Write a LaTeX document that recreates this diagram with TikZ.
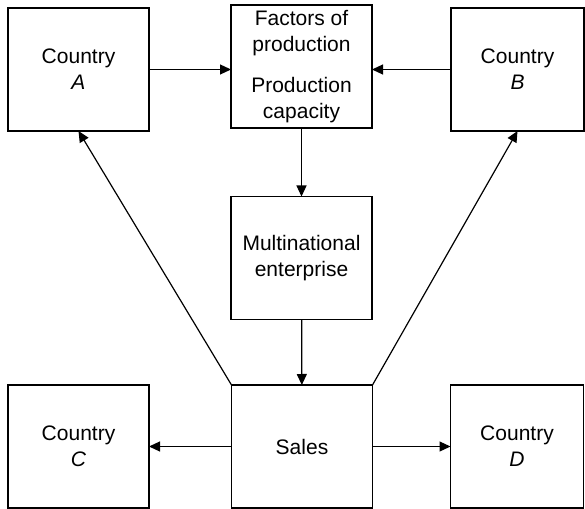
\documentclass[tikz,border=0pt]{standalone}
\usepackage{fontspec}
\setsansfont{Liberation Sans}
\usetikzlibrary{arrows.meta, positioning}
\tikzset{
  every picture/.style={font=\sffamily\fontsize{10.5bp}{13bp}\selectfont, line width=0.6bp},
  box/.style={draw, align=center, inner sep=2bp, outer sep=0pt, minimum width=70.5bp, minimum height=61.5bp},
  narrowbox/.style={box, minimum width=66.5bp},
  arrow/.style={-{Triangle[length=5.5bp, width=5bp]}},
}
\begin{document}
\begin{tikzpicture}[x=0.5bp, y=-0.5bp]
  \useasboundingbox (0,0) rectangle (585,509);
  % top row
  \node[box] (ctyA) at (78.5,69.5) {Country\\ \textit{A}};
  \node[box] (factors) at (301.5,66.5) {\fontsize{10.5bp}{12bp}\selectfont Factors of\\ production\\[7.5bp] Production\\ capacity};
  \node[narrowbox] (ctyB) at (517.5,69.5) {Country\\ \textit{B}};
  % middle
  \node[box] (mne) at (301.5,258) {Multinational\\ enterprise};
  % bottom row
  \node[box] (sales) at (302,446.5) {Sales};
  \node[box] (ctyC) at (78.5,446.5) {Country\\ \textit{C}};
  \node[narrowbox] (ctyD) at (517,446.5) {Country\\ \textit{D}};
  % connectors
  \draw[arrow] (ctyA.east) -- (ctyA.east -| factors.west);
  \draw[arrow] (ctyB.west) -- (ctyB.west -| factors.east);
  \draw[arrow] (factors) -- (mne);
  \draw[arrow] (mne) -- (sales);
  \draw[arrow] (sales) -- (ctyC);
  \draw[arrow] (sales) -- (ctyD);
  \draw[arrow] (sales.north west) -- (ctyA.south);
  \draw[arrow] (sales.north east) -- (ctyB.south);
\end{tikzpicture}
\end{document}
